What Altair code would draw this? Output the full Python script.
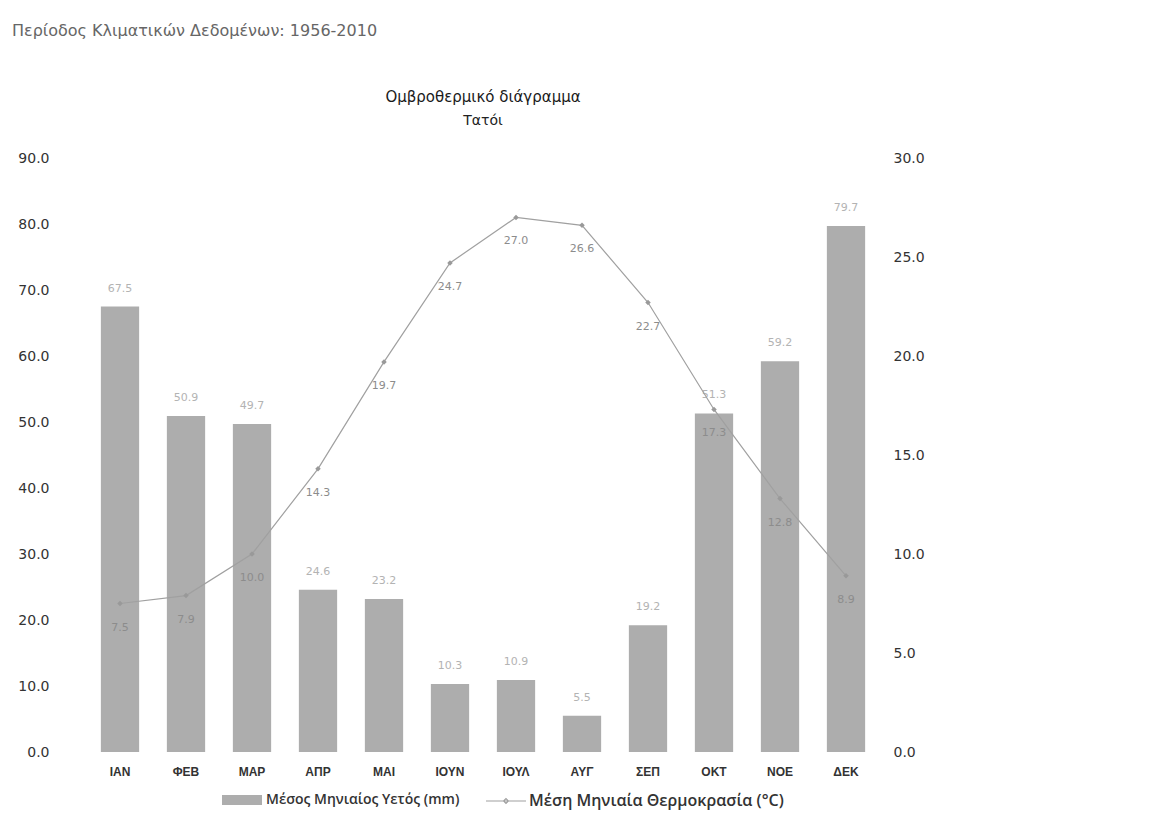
import altair as alt
import pandas as pd

months = ["ΙΑΝ", "ΦΕΒ", "ΜΑΡ", "ΑΠΡ", "ΜΑΙ", "ΙΟΥΝ", "ΙΟΥΛ", "ΑΥΓ", "ΣΕΠ", "ΟΚΤ", "ΝΟΕ", "ΔΕΚ"]
precip = [67.5, 50.9, 49.7, 24.6, 23.2, 10.3, 10.9, 5.5, 19.2, 51.3, 59.2, 79.7]
temp = [7.5, 7.9, 10.0, 14.3, 19.7, 24.7, 27.0, 26.6, 22.7, 17.3, 12.8, 8.9]

rain_name = "Μέσος Μηνιαίος Υετός (mm)"
temp_name = "Μέση Μηνιαία Θερμοκρασία (°C)"
period_note = "Περίοδος Κλιματικών Δεδομένων: 1956-2010"
title_text = "Ομβροθερμικό διάγραμμα"
subtitle_text = "Τατόι"

df = pd.DataFrame({
    "month": months,
    "precip": precip,
    "temp": temp,
    "s_rain": [rain_name] * len(months),
    "s_temp": [temp_name] * len(months),
})

AX_FONT = "DejaVu Sans"
LEG_FONT = "Open Sans"

x_enc = alt.X(
    "month:N", sort=months,
    scale=alt.Scale(paddingInner=0.42, paddingOuter=0.21),
    axis=alt.Axis(title=None, labelAngle=0, domain=False, ticks=False, grid=False,
                  labelPadding=14, labelFont="Liberation Sans", labelFontSize=12,
                  labelColor="#333333", labelFontWeight="bold"),
)

y_p = alt.Y(
    "precip:Q",
    scale=alt.Scale(domain=[0, 90], nice=False),
    axis=alt.Axis(values=list(range(0, 91, 10)), format=".1f", title=None, domain=False,
                  ticks=False, grid=False, labelPadding=38, labelFont=AX_FONT,
                  labelFontSize=14, labelColor="#333333"),
)

y_t = alt.Y(
    "temp:Q",
    scale=alt.Scale(domain=[0, 30], nice=False),
    axis=alt.Axis(orient="right", values=list(range(0, 31, 5)), format=".1f", title=None,
                  domain=False, ticks=False, grid=False, labelPadding=14, labelFont=AX_FONT,
                  labelFontSize=14, labelColor="#333333"),
)

base = alt.Chart(df)

bars = base.mark_bar(color="#adadad").encode(
    x=x_enc,
    y=y_p,
    fill=alt.Fill(
        "s_rain:N",
        scale=alt.Scale(domain=[rain_name], range=["#adadad"]),
        legend=alt.Legend(
            title=None, orient="none", legendX=135, legendY=622, padding=0,
            symbolType="M-1,-0.25L1,-0.25L1,0.25L-1,0.25Z", symbolSize=1600,
            symbolStrokeWidth=0, symbolOpacity=1, labelFont=LEG_FONT, labelFontSize=14,
            labelColor="#333333", labelFontWeight=600, labelOffset=4, labelLimit=400,
        ),
    ),
)

bar_text = base.mark_text(color="#b3b3b3", fontSize=11, font=AX_FONT, dy=-18).encode(
    x=x_enc,
    y=y_p,
    text=alt.Text("precip:Q", format=".1f"),
)

line = base.mark_line(strokeWidth=1.2).encode(
    x=x_enc,
    y=y_t,
    stroke=alt.Stroke(
        "s_temp:N",
        scale=alt.Scale(domain=[temp_name], range=["#a0a0a0"]),
        legend=alt.Legend(
            title=None, orient="none", legendX=398, legendY=622, padding=0,
            symbolType="M-1,0L1,0M-0.12,0L0,-0.12L0.12,0L0,0.12Z", symbolSize=1600,
            symbolStrokeWidth=1.2, labelFont=LEG_FONT, labelFontSize=16,
            labelColor="#333333", labelFontWeight=600, labelOffset=2, labelLimit=400,
        ),
    ),
)

pts = base.mark_point(shape="diamond", filled=True, size=30, color="#999999", opacity=1).encode(
    x=x_enc,
    y=y_t,
)

temp_text = base.mark_text(color="#8c8c8c", fontSize=11, font=AX_FONT, dy=24).encode(
    x=x_enc,
    y=y_t,
    text=alt.Text("temp:Q", format=".1f"),
)

note = alt.Chart(pd.DataFrame({"t": [period_note]})).mark_text(
    align="left", baseline="middle", font=AX_FONT, fontSize=16, color="#666666"
).encode(x=alt.value(-75), y=alt.value(-127), text="t:N")

title_mark = alt.Chart(pd.DataFrame({"t": [title_text]})).mark_text(
    align="center", baseline="middle", font=AX_FONT, fontSize=15, fontWeight=500,
    color="#1a1a1a"
).encode(x=alt.value(396), y=alt.value(-61), text="t:N")

subtitle_mark = alt.Chart(pd.DataFrame({"t": [subtitle_text]})).mark_text(
    align="center", baseline="middle", font=AX_FONT, fontSize=14, color="#222222"
).encode(x=alt.value(396), y=alt.value(-37), text="t:N")

rain_layer = alt.layer(bars, bar_text, note, title_mark, subtitle_mark)
temp_layer = alt.layer(line, pts, temp_text)

chart = alt.layer(rain_layer, temp_layer).resolve_scale(
    y="independent", fill="independent", stroke="independent"
).properties(
    width=792,
    height=594,
    background="white",
    padding={"left": 79, "top": 150, "right": 120, "bottom": 70},
    autosize=alt.AutoSizeParams(type="none"),
).configure_view(stroke=None)

chart.save("out.html", embed_options={"renderer": "svg", "actions": False})
